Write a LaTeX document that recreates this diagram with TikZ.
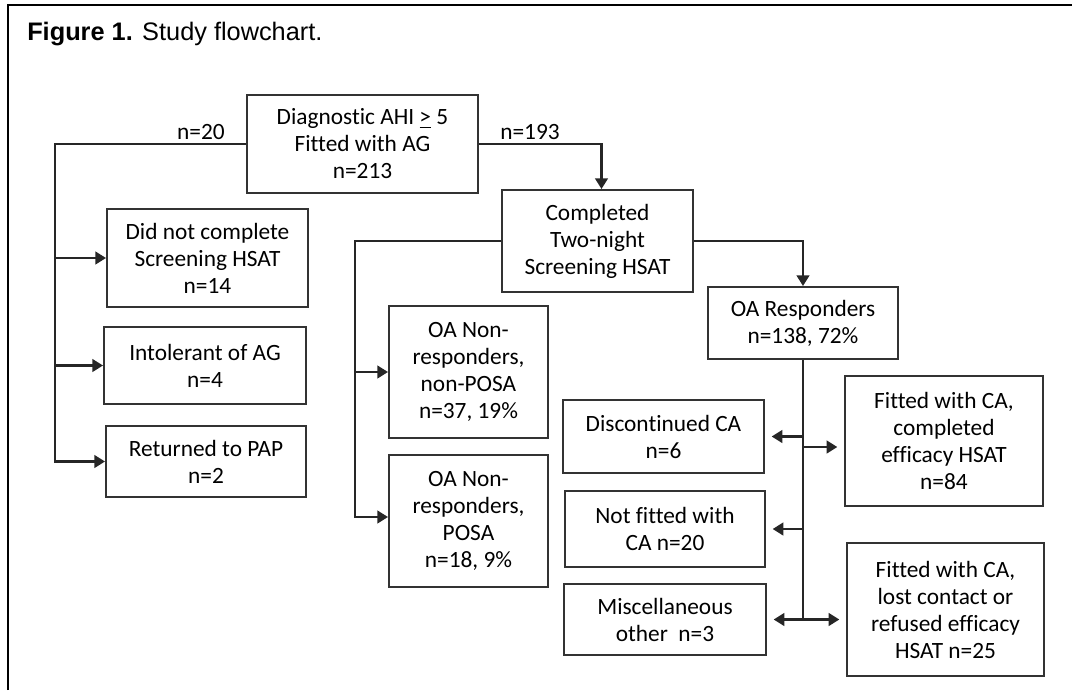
\documentclass[tikz,border=0pt]{standalone}
\usepackage{fontspec}
\setmainfont{Carlito}[Ligatures=NoCommon]
\newfontfamily\arialfont{Liberation Sans}
\usetikzlibrary{arrows.meta, positioning, calc}

\begin{document}
\begin{tikzpicture}[
  x=0.75pt, y=-0.75pt,
  box/.style={draw=black!80, line width=1.5pt, align=center, inner sep=2pt,
              font=\fontsize{17.5}{20.25}\selectfont},
  lbl/.style={font=\fontsize{17.5}{20.25}\selectfont, inner sep=1pt},
  ln/.style={line width=1.7pt, black!85},
  arr/.style={ln, -{Triangle[length=8pt, width=9.5pt]}}
]
\useasboundingbox (0,0) rectangle (1072,690);
\draw[line width=1.5pt] (8,690) -- (8,5) -- (1072,5);
\node[anchor=base west, inner sep=0pt, font=\arialfont\fontsize{19}{23}\selectfont] (title) at (27,40)
  {\textbf{Figure 1.} Study flowchart.};

\node[box, minimum width=173.25pt, minimum height=73.5pt] (diag) at (362.5,144)
  {Diagnostic AHI \underline{>} 5\\Fitted with AG\\n=213};
\node[box, minimum width=143.25pt, minimum height=76.5pt] (done) at (597.5,241)
  {Completed\\Two-night\\Screening HSAT};

\node[box, minimum width=150.75pt, minimum height=73.5pt] (nocomp) at (207.5,258)
  {Did not complete\\Screening HSAT\\n=14};
\node[box, minimum width=151.5pt, minimum height=57.75pt] (intol) at (205,365.5)
  {Intolerant of AG\\n=4};
\node[box, minimum width=150pt, minimum height=53.25pt] (pap) at (206,461.5)
  {Returned to PAP\\n=2};

\node[box, minimum width=119.25pt, minimum height=99pt] (nonposa) at (468.5,372)
  {OA Non-\\responders,\\non-POSA\\n=37, 19\%};
\node[box, minimum width=119.25pt, minimum height=99pt] (posa) at (468.5,521)
  {OA Non-\\responders,\\POSA\\n=18, 9\%};

\node[box, minimum width=142.5pt, minimum height=54pt] (resp) at (803,323)
  {OA Responders\\n=138, 72\%};
\node[box, minimum width=150.75pt, minimum height=54.75pt] (disc) at (663.5,436.5)
  {Discontinued CA\\n=6};
\node[box, minimum width=150pt, minimum height=57pt] (notfit) at (665,529)
  {Not fitted with\\CA n=20};
\node[box, minimum width=151.5pt, minimum height=53.25pt] (misc) at (665,619.5)
  {Miscellaneous\\other~ n=3};
\node[box, minimum width=148.5pt, minimum height=97.5pt] (fitdone) at (944,441)
  {Fitted with CA,\\completed\\efficacy HSAT\\n=84};
\node[box, minimum width=147.75pt, minimum height=99.75pt] (fitlost) at (945.5,609.5)
  {Fitted with CA,\\lost contact or\\refused efficacy\\HSAT n=25};

\node[lbl] (n20) at (201,132) {n=20};
\node[lbl] (n193) at (530,132) {n=193};

\coordinate (ltop) at (55,144);
\draw[arr] (diag.west) -- (ltop) |- (pap.west);
\draw[arr] (ltop |- nocomp.west) -- (nocomp.west);
\draw[arr] (ltop |- intol.west) -- (intol.west);

\draw[arr] (diag.east) -| ([xshift=3pt]done.north);

\coordinate (mtop) at (355,241);
\draw[arr] (done.west) -- (mtop) |- ([yshift=3pt]posa.west);
\draw[arr] (mtop |- nonposa.west) -- (nonposa.west);

\draw[arr] (done.east) -| (resp.north);

\coordinate (rbot) at (resp.south |- misc.east);
\draw[ln] (resp.south) -- (rbot);
\draw[arr, shorten >=5pt] (resp.south |- disc.east) -- (disc.east);
\draw[arr, shorten >=5pt] (resp.south |- notfit.east) -- (notfit.east);
\draw[arr, shorten >=5pt] (rbot) -- (misc.east);
\draw[arr, shorten >=5pt] (resp.south |- fitdone.west) ++(0,6) -- ($(fitdone.west)+(0,6)$);
\draw[arr, shorten >=5pt] (rbot) -- (rbot -| fitlost.west);
\end{tikzpicture}
\end{document}
